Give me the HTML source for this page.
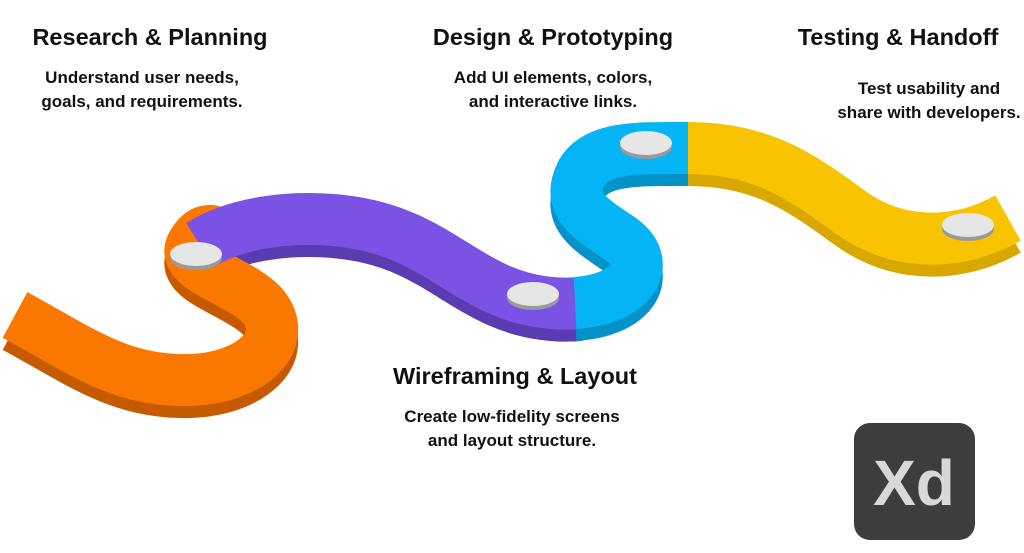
<!DOCTYPE html>
<html><head><meta charset="utf-8"><style>
body{margin:0;width:1024px;height:553px;background:#fff;overflow:hidden;position:relative;font-family:"Liberation Sans",sans-serif;color:#111}
.h{position:absolute;font-weight:bold;font-size:23.5px;white-space:nowrap;transform:translateX(-50%)}
.s{position:absolute;font-weight:bold;font-size:17px;line-height:24px;text-align:center;white-space:nowrap;transform:translateX(-50%)}
</style></head><body>
<svg width="1024" height="553" style="position:absolute;left:0;top:0">
<g fill="none" stroke-width="52" stroke-linecap="butt" stroke-linejoin="round">
<g transform="translate(0,12)">
<path d="M15,315 C80,350 120,382 190,380 C252,378 292,340 262,305 C238,280 180,268 192,245 C200,230 212,226 222,238" stroke="#c65a00"/>
<path d="M200,245 C240,220 300,215 350,222 C420,232 450,268 500,290 C530,303 560,305 580,303" stroke="#5a3bb0"/>
<path d="M575,303 C630,300 655,265 622,240 C590,218 565,205 582,172 C598,146 640,148 690,148" stroke="#0592c8"/>
<path d="M688,148 C760,148 800,175 850,212 C900,248 960,245 1008,218" stroke="#d8a800"/>
</g>
<path d="M15,315 C80,350 120,382 190,380 C252,378 292,340 262,305 C238,280 180,268 192,245 C200,230 212,226 222,238" stroke="#fb7800"/>
<path d="M200,245 C240,220 300,215 350,222 C420,232 450,268 500,290 C530,303 560,305 580,303" stroke="#7a52e4"/>
<path d="M575,303 C630,300 655,265 622,240 C590,218 565,205 582,172 C598,146 640,148 690,148" stroke="#04b4f4"/>
<path d="M688,148 C760,148 800,175 850,212 C900,248 960,245 1008,218" stroke="#f8c300"/>
</g>
<g>
<ellipse cx="196" cy="258" rx="26" ry="12" fill="#9a9a9a"/><ellipse cx="196" cy="254" rx="26" ry="12" fill="#e6e6e6"/>
<ellipse cx="533" cy="298" rx="26" ry="12" fill="#9a9a9a"/><ellipse cx="533" cy="294" rx="26" ry="12" fill="#e6e6e6"/>
<ellipse cx="646" cy="147" rx="26" ry="12" fill="#9a9a9a"/><ellipse cx="646" cy="143" rx="26" ry="12" fill="#e6e6e6"/>
<ellipse cx="968" cy="229" rx="26" ry="12" fill="#9a9a9a"/><ellipse cx="968" cy="225" rx="26" ry="12" fill="#e6e6e6"/>
</g>
<rect x="854" y="423" width="121" height="117" rx="16" fill="#3d3d3d"/>
<text x="914" y="505" text-anchor="middle" font-family="Liberation Sans" font-weight="bold" font-size="64" fill="#d8d8d8">Xd</text>
</svg>
<div class="h" style="left:150px;top:24px">Research &amp; Planning</div>
<div class="s" style="left:142px;top:66px">Understand user needs,<br>goals, and requirements.</div>
<div class="h" style="left:553px;top:24px">Design &amp; Prototyping</div>
<div class="s" style="left:553px;top:66px">Add UI elements, colors,<br>and interactive links.</div>
<div class="h" style="left:898px;top:24px">Testing &amp; Handoff</div>
<div class="s" style="left:929px;top:77px">Test usability and<br>share with developers.</div>
<div class="h" style="left:515px;top:363px">Wireframing &amp; Layout</div>
<div class="s" style="left:512px;top:405px">Create low-fidelity screens<br>and layout structure.</div>
</body></html>
